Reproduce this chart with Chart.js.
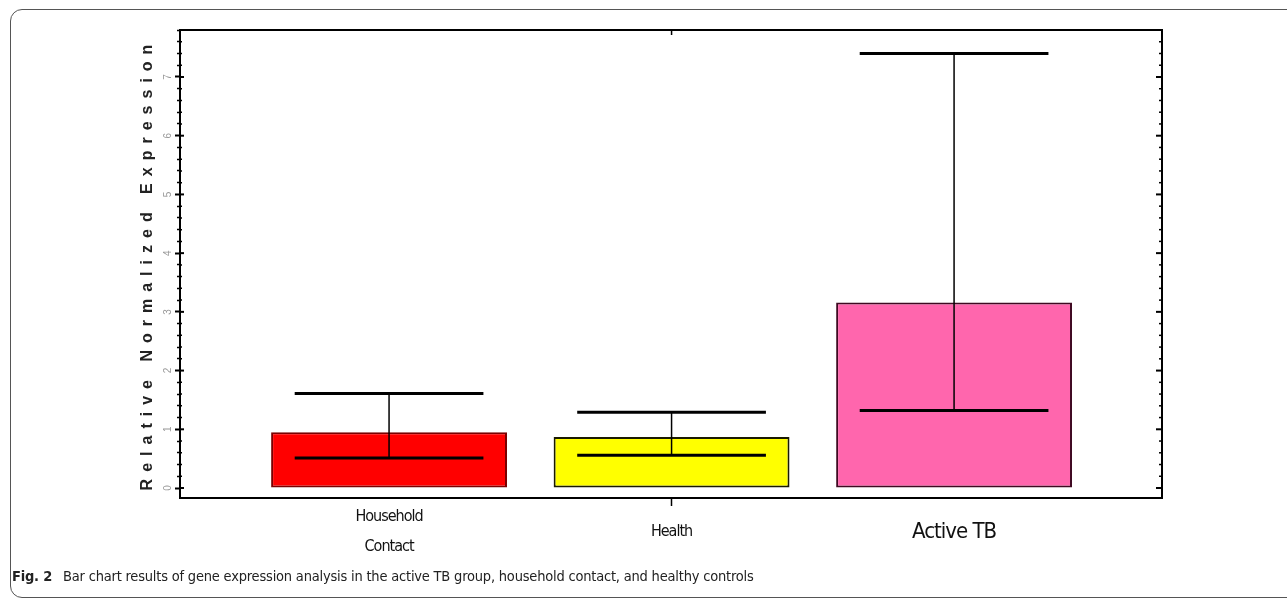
<!DOCTYPE html>
<html>
<head>
<meta charset="utf-8">
<script src="https://cdn.jsdelivr.net/npm/chart.js@4/dist/chart.umd.min.js"></script>
<style>
  html, body { margin: 0; padding: 0; background: #fff; }
  #wrap { position: relative; width: 1287px; height: 600px; overflow: hidden; }
  #frame { position: absolute; left: 10px; top: 9px; width: 1400px; height: 589px;
           border: 1.5px solid #555; border-radius: 12px; box-sizing: border-box; }
  #chart { position: absolute; left: 0; top: 0; }
  #caption { position: absolute; left: 12px; top: 568px; white-space: nowrap; color: #222;
             font-family: "DejaVu Sans Condensed", "Liberation Sans", sans-serif;
             font-size: 14.5px; letter-spacing: -0.2px; }
  #caption b { margin-right: 7px; }
</style>
</head>
<body>
<div id="wrap">
  <div id="frame"></div>
  <canvas id="chart" width="1287" height="600"></canvas>
  <div id="caption"><b>Fig. 2</b> Bar chart results of gene expression analysis in the active TB group, household contact, and healthy controls</div>
</div>
<script>
// Groups and relative normalized expression (mean with upper / lower whisker values)
const categories = [['Household', 'Contact'], 'Health', 'Active TB'];
const meanExpression = [0.95, 0.87, 3.16];
const upperBound = [1.61, 1.29, 7.40];
const lowerBound = [0.51, 0.56, 1.32];
const yTickValues = [0, 1, 2, 3, 4, 5, 6, 7];

const narrowFont = '"DejaVu Sans Condensed", "Liberation Sans", sans-serif';
const isMajor = v => yTickValues.includes(Math.round(v * 1000) / 1000);

// Run a scale's draw step with a given canvas letter spacing
function withSpacing(scale, method, spacing) {
  const orig = scale[method];
  scale[method] = function (...args) {
    const c = this.ctx;
    c.save();
    c.letterSpacing = spacing;
    orig.apply(this, args);
    c.restore();
  };
}

const spacedText = {
  id: 'spacedText',
  beforeDraw(chart) {
    const { x, y } = chart.scales;
    if (!y._spaced) { withSpacing(y, 'drawTitle', '7px'); y._spaced = true; }
    if (!x._spaced) { withSpacing(x, 'drawLabels', '-1px'); x._spaced = true; }
  }
};

// Whiskers: vertical line between the lower and upper values, with a bar at each end
const errorBars = {
  id: 'errorBars',
  afterDatasetsDraw(chart) {
    const { ctx } = chart;
    const y = chart.scales.y;
    const meta = chart.getDatasetMeta(0);
    ctx.save();
    ctx.strokeStyle = '#000';
    ctx.lineCap = 'butt';
    meta.data.forEach((bar, i) => {
      const cx = bar.x;
      const half = bar.width * 0.4;
      const yHi = y.getPixelForValue(upperBound[i]);
      const yLo = y.getPixelForValue(lowerBound[i]);
      ctx.lineWidth = 1.5;
      ctx.beginPath(); ctx.moveTo(cx, yHi); ctx.lineTo(cx, yLo); ctx.stroke();
      ctx.lineWidth = 3;
      [yHi, yLo].forEach(py => {
        ctx.beginPath(); ctx.moveTo(cx - half, py); ctx.lineTo(cx + half, py); ctx.stroke();
      });
    });
    ctx.restore();
  }
};

// Closed plot frame with small inward ticks on the left, right and top edges
const plotFrame = {
  id: 'plotFrame',
  afterDraw(chart) {
    const { ctx, chartArea: a } = chart;
    const y = chart.scales.y, x = chart.scales.x;
    ctx.save();
    ctx.strokeStyle = '#000';
    ctx.lineWidth = 2;
    ctx.beginPath();
    ctx.moveTo(a.left, a.top); ctx.lineTo(a.right, a.top); ctx.lineTo(a.right, a.bottom);
    ctx.stroke();
    y.ticks.forEach(t => {
      const py = y.getPixelForValue(t.value);
      const major = isMajor(t.value);
      ctx.lineWidth = major ? 2 : 1.5;
      const inL = major ? 4 : 2;
      const inR = major ? 6 : 3;
      ctx.beginPath(); ctx.moveTo(a.left, py); ctx.lineTo(a.left + inL, py); ctx.stroke();
      ctx.beginPath(); ctx.moveTo(a.right, py); ctx.lineTo(a.right - inR, py); ctx.stroke();
    });
    const mid = x.getPixelForValue(2);
    ctx.lineWidth = 1.5;
    ctx.beginPath(); ctx.moveTo(mid, a.top); ctx.lineTo(mid, a.top + 5); ctx.stroke();
    ctx.restore();
  }
};

new Chart(document.getElementById('chart'), {
  type: 'bar',
  data: {
    datasets: [{
      data: meanExpression.map((v, i) => ({ x: i + 1, y: v })),
      backgroundColor: ['#ff0000', '#ffff00', '#ff66ad'],
      borderColor: ['#7a0000', '#1a1a00', '#3f0a22'],
      borderWidth: 2,
      borderSkipped: false,
      barPercentage: 0.835,
      categoryPercentage: 1
    }]
  },
  options: {
    responsive: false,
    animation: false,
    layout: { padding: { left: 130, top: 30, right: 125, bottom: 0 } },
    plugins: { legend: { display: false }, tooltip: { enabled: false } },
    scales: {
      x: {
        type: 'linear',
        position: 'bottom',
        offset: false,
        min: 0.26,
        max: 3.736,
        afterBuildTicks: s => { s.ticks = categories.map((_, i) => ({ value: i + 1 })); },
        afterFit: s => { s.height = 102; },
        grid: {
          offset: false,
          drawOnChartArea: false,
          tickLength: 8,
          tickWidth: 1.5,
          tickColor: c => (c.index === 1 ? '#000' : 'rgba(0,0,0,0)')
        },
        border: { display: true, color: '#000', width: 2 },
        ticks: {
          autoSkip: false,
          maxRotation: 0,
          crossAlign: 'center',
          padding: 11,
          color: '#111',
          font: c => (c.index === 2
            ? { family: narrowFont, size: 22, lineHeight: 1.3 }
            : { family: narrowFont, size: 16, lineHeight: 1.85 }),
          callback: (v, i) => categories[i]
        }
      },
      y: {
        type: 'linear',
        position: 'left',
        min: -0.17,
        max: 7.8,
        afterFit: s => { s.width = 50; },
        grid: {
          drawOnChartArea: false,
          tickLength: 5,
          tickColor: '#000',
          tickWidth: c => (isMajor(c.tick.value) ? 2 : 1.5),
          tickBorderDash: c => (isMajor(c.tick.value) ? [] : [0, 2, 3, 20])
        },
        border: { display: true, color: '#000', width: 2 },
        ticks: {
          stepSize: 0.2,
          includeBounds: false,
          minRotation: 90,
          maxRotation: 90,
          crossAlign: 'center',
          padding: 4,
          color: '#9a9a9a',
          font: { family: 'Liberation Sans', size: 10 },
          callback: v => (isMajor(v) ? String(Math.round(v)) : '')
        },
        title: {
          display: true,
          text: 'Relative Normalized Expression',
          color: '#222',
          font: { family: 'Liberation Sans', size: 16, weight: 'bold' },
          padding: { top: 8, bottom: 0 }
        }
      }
    }
  },
  plugins: [spacedText, errorBars, plotFrame]
});
</script>
</body>
</html>
